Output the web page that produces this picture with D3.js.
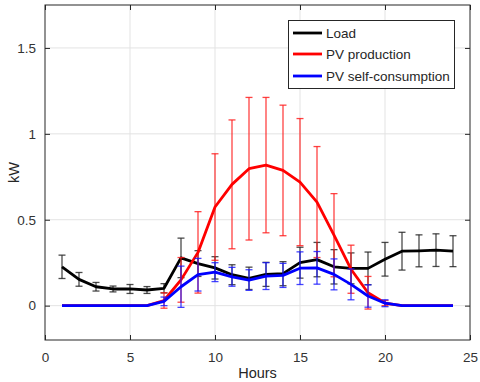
<!DOCTYPE html>
<html>
<head>
<meta charset="utf-8">
<script src="https://cdn.jsdelivr.net/npm/d3@7"></script>
<style>
  html, body { margin: 0; padding: 0; background: #fff; }
  svg { display: block; font-family: "Liberation Sans", Arial, sans-serif; }
</style>
</head>
<body>
<svg id="vis" width="480" height="382"></svg>
<script>
// hourly averages (kW) with std error bars
let hours = [1, 2, 3, 4, 5, 6, 7, 8, 9, 10, 11, 12, 13, 14, 15, 16, 17, 18, 19, 20, 21, 22, 23, 24];

let loadMean = [0.226, 0.153, 0.11, 0.097, 0.097, 0.091, 0.101, 0.278, 0.245, 0.22, 0.18, 0.159,
    0.182, 0.186, 0.25, 0.268, 0.226, 0.217, 0.217, 0.27, 0.317, 0.319, 0.323, 0.317];
let loadErr = [0.068, 0.04, 0.025, 0.017, 0.026, 0.02, 0.027, 0.115, 0.075, 0.065, 0.058, 0.065,
    0.07, 0.07, 0.09, 0.1, 0.1, 0.09, 0.095, 0.098, 0.11, 0.093, 0.095, 0.09];

let pvMean = [0, 0, 0, 0, 0, 0, 0.03, 0.15, 0.31, 0.574, 0.706, 0.797,
    0.818, 0.787, 0.719, 0.603, 0.41, 0.212, 0.075, 0.015, 0, 0, 0, 0];
let pvErr = [0, 0, 0, 0, 0, 0, 0.045, 0.13, 0.237, 0.31, 0.375, 0.415,
    0.394, 0.38, 0.37, 0.323, 0.242, 0.14, 0.095, 0.015, 0, 0, 0, 0];

let selfMean = [0, 0, 0, 0, 0, 0, 0.025, 0.11, 0.18, 0.195, 0.168, 0.149,
    0.172, 0.176, 0.218, 0.22, 0.182, 0.124, 0.056, 0.014, 0, 0, 0, 0];
let selfErr = [0, 0, 0, 0, 0, 0, 0.025, 0.12, 0.095, 0.055, 0.055, 0.06,
    0.078, 0.07, 0.095, 0.095, 0.09, 0.09, 0.065, 0.02, 0, 0, 0, 0];

let xTicks = [0, 5, 10, 15, 20, 25];
let yTicks = [0, 0.5, 1, 1.5];
let seriesNames = ["Load", "PV production", "PV self-consumption"];
let seriesColors = ["#000000", "#ff0000", "#0000ff"];
let barColors = ["rgba(30,30,30,0.8)", "rgba(255,20,20,0.8)", "rgba(20,20,255,0.8)"];

let svg = d3.select("#vis");
let plotL = 45, plotR = 470, plotT = 5, plotB = 340;

let x = d3.scaleLinear().domain([0, 25]).range([plotL, plotR]);
let y = d3.scaleLinear().domain([-0.2, 1.75]).range([plotB, plotT]);

// grid
svg.append("g").selectAll("line")
    .data(xTicks.slice(1, -1))
    .enter().append("line")
    .attr("x1", d => x(d)).attr("x2", d => x(d))
    .attr("y1", plotT).attr("y2", plotB)
    .attr("stroke", "#e3e3e3").attr("stroke-width", 1);
svg.append("g").selectAll("line")
    .data(yTicks)
    .enter().append("line")
    .attr("x1", plotL).attr("x2", plotR)
    .attr("y1", d => y(d)).attr("y2", d => y(d))
    .attr("stroke", "#e3e3e3").attr("stroke-width", 1);

// axes, ticks pointing inward on all four sides
function styleAxis(g) {
    g.select(".domain").remove();
    g.selectAll(".tick line").attr("stroke", "#262626");
    g.selectAll(".tick text").attr("fill", "#333").style("font-size", "13.5px");
}
svg.append("g")
    .attr("transform", "translate(0," + plotB + ")")
    .call(d3.axisBottom(x).tickValues(xTicks).tickSizeInner(-5).tickSizeOuter(0).tickPadding(12))
    .call(styleAxis);
svg.append("g")
    .attr("transform", "translate(" + plotL + ",0)")
    .call(d3.axisLeft(y).tickValues(yTicks).tickFormat(d3.format("")).tickSizeInner(-5).tickSizeOuter(0).tickPadding(9))
    .call(styleAxis);
svg.append("g")
    .attr("transform", "translate(0," + plotT + ")")
    .call(d3.axisTop(x).tickValues(xTicks).tickSizeInner(-5).tickSizeOuter(0).tickFormat(""))
    .call(styleAxis);
svg.append("g")
    .attr("transform", "translate(" + plotR + ",0)")
    .call(d3.axisRight(y).tickValues(yTicks).tickSizeInner(-5).tickSizeOuter(0).tickFormat(""))
    .call(styleAxis);

svg.append("rect")
    .attr("x", plotL).attr("y", plotT)
    .attr("width", plotR - plotL).attr("height", plotB - plotT)
    .attr("fill", "none").attr("stroke", "#262626").attr("stroke-width", 1);

// labels
svg.append("text")
    .attr("x", (plotL + plotR) / 2).attr("y", 378)
    .attr("text-anchor", "middle")
    .style("font-size", "14.5px").attr("fill", "#262626")
    .text("Hours");
svg.append("text")
    .attr("transform", "translate(19," + (plotT + plotB) / 2 + ") rotate(-90)")
    .attr("text-anchor", "middle")
    .style("font-size", "14.5px").attr("fill", "#262626")
    .text("kW");

// series
let means = [loadMean, pvMean, selfMean];
let errs = [loadErr, pvErr, selfErr];

let line = d3.line()
    .x((d, i) => x(hours[i]))
    .y(d => y(d));

let cap = 3.5;
means.forEach(function (m, k) {
    let g = svg.append("g");
    let bars = hours.map((h, i) => ({h: h, m: m[i], e: errs[k][i]})).filter(d => d.e > 0);
    g.selectAll(".v").data(bars).enter().append("line")
        .attr("x1", d => x(d.h)).attr("x2", d => x(d.h))
        .attr("y1", d => y(d.m - d.e)).attr("y2", d => y(d.m + d.e))
        .attr("stroke", barColors[k]).attr("stroke-width", 1.3);
    g.selectAll(".t").data(bars).enter().append("line")
        .attr("x1", d => x(d.h) - cap).attr("x2", d => x(d.h) + cap)
        .attr("y1", d => y(d.m + d.e)).attr("y2", d => y(d.m + d.e))
        .attr("stroke", barColors[k]).attr("stroke-width", 1.3);
    g.selectAll(".b").data(bars).enter().append("line")
        .attr("x1", d => x(d.h) - cap).attr("x2", d => x(d.h) + cap)
        .attr("y1", d => y(d.m - d.e)).attr("y2", d => y(d.m - d.e))
        .attr("stroke", barColors[k]).attr("stroke-width", 1.3);
    g.append("path")
        .attr("d", line(m))
        .attr("fill", "none")
        .attr("stroke", seriesColors[k])
        .attr("stroke-width", 2.8)
        .attr("stroke-linejoin", "round");
});

// legend
let legend = svg.append("g");
legend.append("rect")
    .attr("x", 288.5).attr("y", 20.5)
    .attr("width", 166).attr("height", 68)
    .attr("fill", "#fff").attr("stroke", "#262626").attr("stroke-width", 1);
let rowY = [33, 54, 76];
seriesNames.forEach(function (name, i) {
    legend.append("line")
        .attr("x1", 293).attr("x2", 322)
        .attr("y1", rowY[i]).attr("y2", rowY[i])
        .attr("stroke", seriesColors[i]).attr("stroke-width", 2.8);
    legend.append("text")
        .attr("x", 326).attr("y", rowY[i])
        .attr("dy", "0.35em")
        .style("font-size", "13.5px").attr("fill", "#262626")
        .text(name);
});
</script>
</body>
</html>
